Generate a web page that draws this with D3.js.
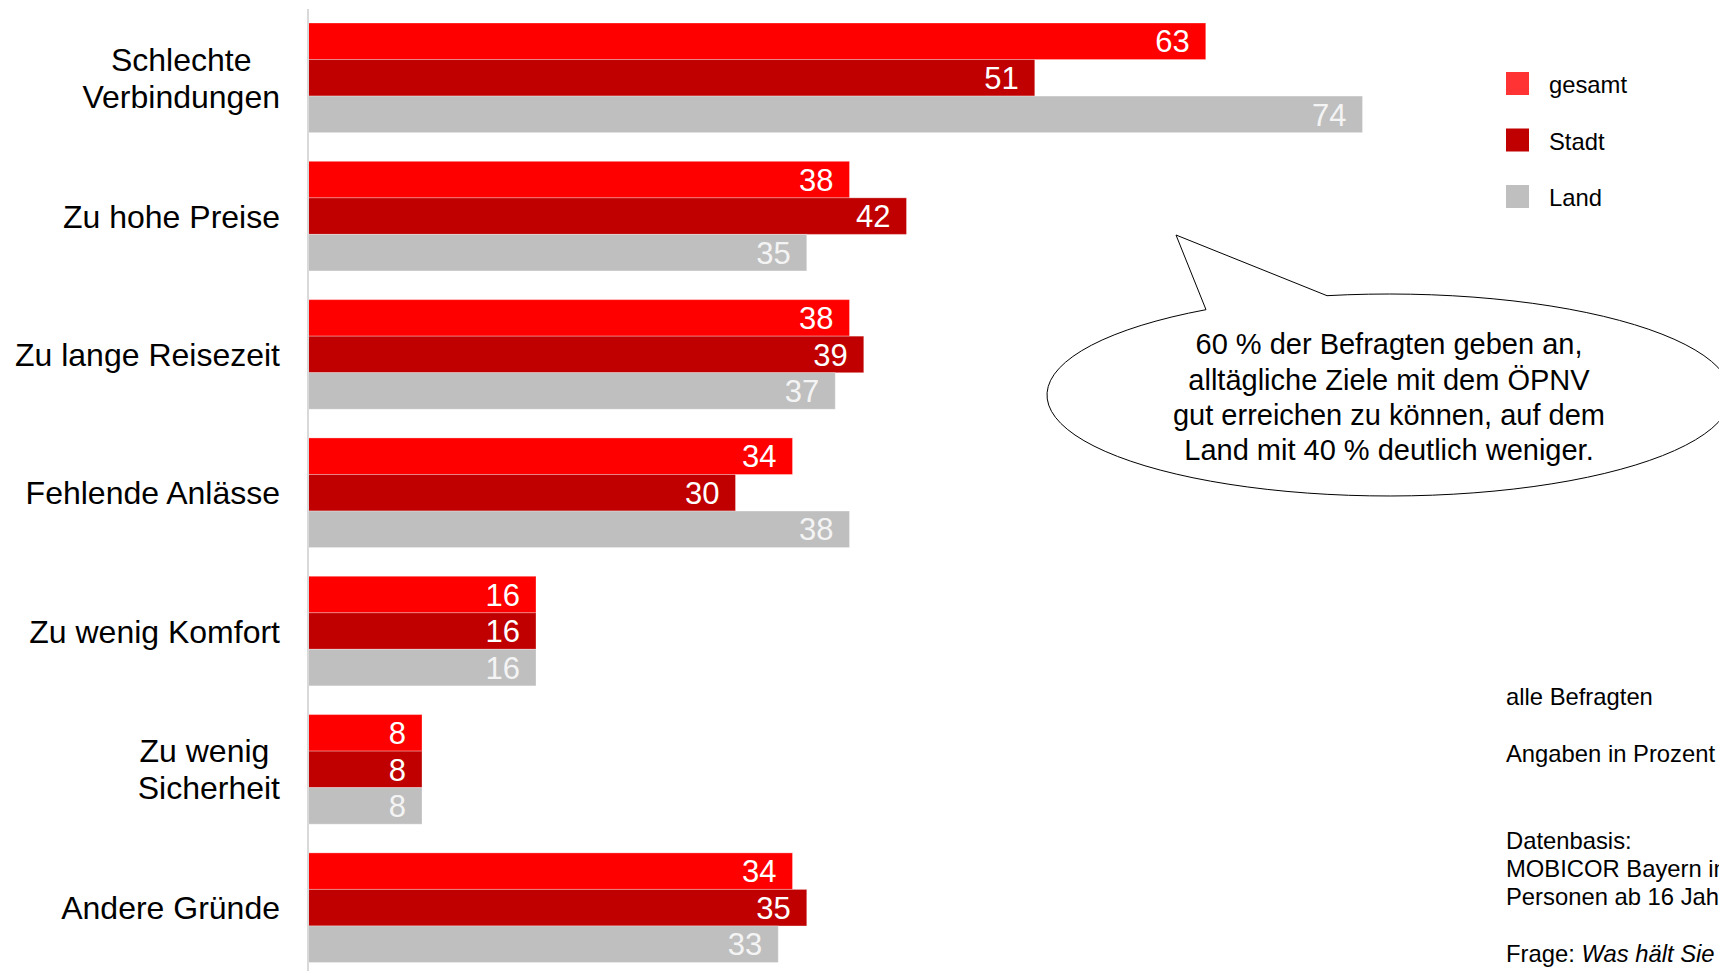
<!doctype html>
<html>
<head>
<meta charset="utf-8">
<script src="https://d3js.org/d3.v7.min.js"></script>
<style>
  body { margin: 0; background: #fff; }
  svg { display: block; font-family: "Liberation Sans", Arial, sans-serif; }
</style>
</head>
<body>
<div id="chart"></div>
<script>
// data
var categories = [
  ["Schlechte", "Verbindungen"],
  ["Zu hohe Preise"],
  ["Zu lange Reisezeit"],
  ["Fehlende Anlässe"],
  ["Zu wenig Komfort"],
  ["Zu wenig ", "Sicherheit"],
  ["Andere Gründe"]
];
var seriesNames = ["gesamt", "Stadt", "Land"];
var gesamt = [63, 38, 38, 34, 16, 8, 34];
var stadt  = [51, 42, 39, 30, 16, 8, 35];
var land   = [74, 35, 37, 38, 16, 8, 33];
var seriesColors = ["#ff0000", "#c00000", "#bfbfbf"];
var legendColors = ["#ff3333", "#c00000", "#bfbfbf"];
var calloutLines = [
  "60 % der Befragten geben an,",
  "alltägliche Ziele mit dem ÖPNV",
  "gut erreichen zu können, auf dem",
  "Land mit 40 % deutlich weniger."
];

var width = 1719, height = 971;
var values = [gesamt, stadt, land];
var catKeys = categories.map(function(c) { return c.join(" "); });

var svg = d3.select("#chart").append("svg")
  .attr("width", width)
  .attr("height", height);

// scales
var x = d3.scaleLinear().domain([0, 100]).range([308, 1733]);
var y = d3.scaleBand().domain(catKeys).range([23, 962.5]).paddingInner(0.2075).paddingOuter(0);
var ySub = d3.scaleBand().domain(seriesNames).range([0, y.bandwidth()]);

// bars
var groups = svg.append("g").selectAll("g")
  .data(categories)
  .enter().append("g")
    .attr("transform", function(d, i) { return "translate(0," + y(catKeys[i]) + ")"; });

groups.each(function(c, i) {
  var g = d3.select(this);
  var rows = seriesNames.map(function(s, j) { return { s: s, v: values[j][i], j: j }; });
  g.selectAll("rect").data(rows).enter().append("rect")
    .attr("x", x(0))
    .attr("y", function(d) { return ySub(d.s); })
    .attr("width", function(d) { return x(d.v) - x(0); })
    .attr("height", ySub.bandwidth())
    .attr("fill", function(d) { return seriesColors[d.j]; })
    .attr("stroke", "rgba(255,255,255,0.3)")
    .attr("stroke-width", 1);
  g.selectAll("text.val").data(rows).enter().append("text")
    .attr("class", "val")
    .attr("x", function(d) { return x(d.v) - 16; })
    .attr("y", function(d) { return ySub(d.s) + ySub.bandwidth() / 2; })
    .attr("dy", "0.36em")
    .attr("text-anchor", "end")
    .attr("fill", function(d) { return d.j == 2 ? "#f4f4f4" : "#fff"; })
    .style("font-size", "31px")
    .text(function(d) { return d.v; });
});

// category axis line
svg.append("line")
  .attr("x1", x(0)).attr("x2", x(0))
  .attr("y1", 9).attr("y2", height)
  .attr("stroke", "#d9d9d9")
  .attr("stroke-width", 2);

// category labels (multi-line ones are centred in their block, block right aligned)
var labelRight = 280, lineH = 37;
categories.forEach(function(lines, i) {
  var cy = y(catKeys[i]) + y.bandwidth() / 2;
  var t = svg.append("g");
  var texts = lines.map(function(l, k) {
    return t.append("text")
      .attr("y", cy + (k - (lines.length - 1) / 2) * lineH)
      .attr("dy", "0.36em")
      .attr("text-anchor", "middle")
      .attr("fill", "#000")
      .style("font-size", "32px")
      .style("white-space", "pre")
      .text(l);
  });
  var maxW = d3.max(texts, function(tx) { return tx.node().getComputedTextLength(); });
  texts.forEach(function(tx) { tx.attr("x", labelRight - maxW / 2); });
});

// legend
var legend = svg.append("g").selectAll("g")
  .data(seriesNames)
  .enter().append("g")
    .attr("transform", function(d, i) { return "translate(1506," + (72 + i * 56.5) + ")"; });
legend.append("rect")
  .attr("width", 23).attr("height", 23)
  .attr("fill", function(d, i) { return legendColors[i]; });
legend.append("text")
  .attr("x", 43).attr("y", 12.5).attr("dy", "0.36em")
  .style("font-size", "23.8px")
  .text(function(d) { return d; });

// speech bubble
var cx = 1389, cyE = 395, rx = 342, ry = 101;
var bubble = svg.append("g");
var a1 = Math.acos((1206 - cx) / rx), a2 = Math.acos((1327 - cx) / rx);
var p1 = [1206, cyE - ry * Math.sin(a1)], p2 = [1327, cyE - ry * Math.sin(a2)];
bubble.append("path")
  .attr("d", "M" + p1[0] + "," + p1[1] +
    " A" + rx + "," + ry + " 0 1 0 " + p2[0] + "," + p2[1] + " L1176,235 Z")
  .attr("fill", "#fff")
  .attr("stroke", "#000")
  .attr("stroke-width", 1);
bubble.selectAll("text").data(calloutLines).enter().append("text")
  .attr("x", cx)
  .attr("y", function(d, i) { return 344 + i * 35.2; })
  .attr("dy", "0.36em")
  .attr("text-anchor", "middle")
  .style("font-size", "29px")
  .text(function(d) { return d; });

// notes on the right (cut off at the page edge, as in the original)
var notes = svg.append("g").style("font-size", "23.8px");
notes.append("text").attr("x", 1506).attr("y", 705).text("alle Befragten");
notes.append("text").attr("x", 1506).attr("y", 762).text("Angaben in Prozent");
notes.append("text").attr("x", 1506).attr("y", 849).text("Datenbasis:");
notes.append("text").attr("x", 1506).attr("y", 877).text("MOBICOR Bayern in");
notes.append("text").attr("x", 1506).attr("y", 905).text("Personen ab 16 Jahren");
var q = notes.append("text").attr("x", 1506).attr("y", 962);
q.append("tspan").text("Frage: ");
q.append("tspan").style("font-style", "italic").text("Was hält Sie davon ab");
</script>
</body>
</html>
